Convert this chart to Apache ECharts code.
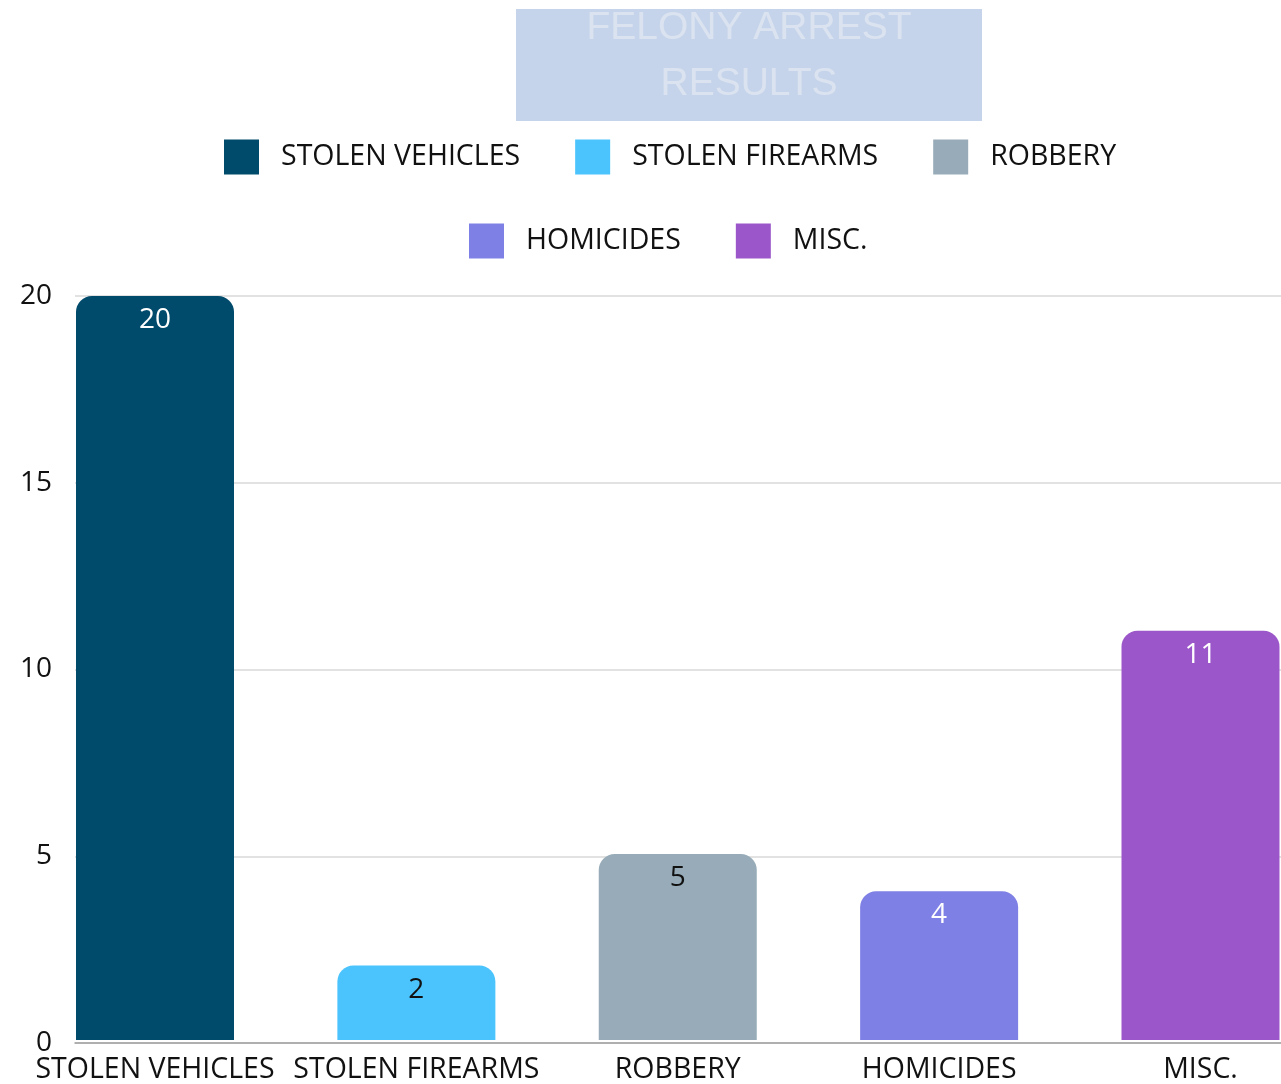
<!DOCTYPE html>
<html>
<head>
<meta charset="utf-8">
<script src="https://cdn.jsdelivr.net/npm/echarts@6/dist/echarts.min.js"></script>
<style>
  html, body { margin: 0; padding: 0; background: #ffffff; }
  #chart { width: 1281px; height: 1084px; }
</style>
</head>
<body>
<div id="chart"></div>
<script>
// Felony arrest results by category
const categories = ['STOLEN VEHICLES', 'STOLEN FIREARMS', 'ROBBERY', 'HOMICIDES', 'MISC.'];
const arrests = [20, 2, 5, 4, 11];
const barColors = ['#004a6b', '#4bc4fd', '#97acb8', '#7f80e5', '#9b57c9'];
const labelColors = ['#ffffff', '#111111', '#111111', '#ffffff', '#ffffff'];
const yTicks = { min: 0, max: 20, interval: 5 };

const FONT = '"Open Sans", sans-serif';

// one series per category so each gets its own legend entry
const series = categories.map((name, i) => ({
  name: name,
  type: 'bar',
  xAxisIndex: 0,
  yAxisIndex: 0,
  barWidth: 158,
  barGap: '-100%',
  data: categories.map((c, j) => (j === i ? arrests[i] : '-')),
  itemStyle: { color: barColors[i], borderRadius: [16, 16, 0, 0] },
  label: {
    show: true,
    position: 'insideTop',
    distance: 10,
    fontFamily: FONT,
    fontSize: 28,
    color: labelColors[i]
  }
}));

const legendText = { fontFamily: FONT, fontSize: 28.5, color: '#111111', padding: [0, 0, 0, 17] };

const chart = echarts.init(document.getElementById('chart'), null, { renderer: 'canvas' });
chart.setOption({
  backgroundColor: '#ffffff',
  animation: false,
  graphic: [{
    type: 'rect',
    shape: { x: 516, y: 9, width: 466, height: 112 },
    style: { fill: '#c5d4ea' },
    z: -1
  }],
  title: {
    text: 'FELONY ARREST\nRESULTS',
    left: 749,
    top: 0,
    textAlign: 'center',
    padding: 0,
    textStyle: {
      fontFamily: '"Liberation Sans", Arial, sans-serif',
      fontSize: 39,
      fontWeight: 'normal',
      lineHeight: 56,
      color: '#dbe3f0'
    }
  },
  legend: [
    {
      data: categories.slice(0, 3),
      left: 224, top: 139.5, padding: 0,
      itemWidth: 35, itemHeight: 35, itemGap: 55,
      icon: 'rect',
      textStyle: legendText
    },
    {
      data: categories.slice(3),
      left: 469, top: 223.5, padding: 0,
      itemWidth: 35, itemHeight: 35, itemGap: 55,
      icon: 'rect',
      textStyle: legendText
    }
  ],
  grid: [
    // bars and category labels: first and last category sit on the grid edges
    { left: 155, right: 80.5, top: 296, height: 747 },
    // value axis, gridlines and baseline
    { left: 75, right: 0, top: 296, height: 747 }
  ],
  xAxis: [
    {
      type: 'category',
      gridIndex: 0,
      boundaryGap: false,
      data: categories,
      axisLine: { show: false },
      axisTick: { show: false },
      splitLine: { show: false },
      axisLabel: { interval: 0, margin: 15, fontFamily: FONT, fontSize: 28.5, color: '#111111' }
    },
    {
      type: 'value',
      gridIndex: 1,
      min: 0, max: 1,
      axisLine: { show: true, lineStyle: { color: '#9e9e9e', width: 1.5 } },
      axisTick: { show: false },
      axisLabel: { show: false },
      splitLine: { show: false }
    }
  ],
  yAxis: [
    {
      type: 'value',
      gridIndex: 0,
      min: yTicks.min, max: yTicks.max, interval: yTicks.interval,
      show: false
    },
    {
      type: 'value',
      gridIndex: 1,
      min: yTicks.min, max: yTicks.max, interval: yTicks.interval,
      axisLine: { show: false },
      axisTick: { show: false },
      axisLabel: { margin: 23, fontFamily: FONT, fontSize: 28, color: '#111111' },
      splitLine: { lineStyle: { color: '#d9d9d9', width: 1.5 } }
    }
  ],
  series: series
});
</script>
</body>
</html>
